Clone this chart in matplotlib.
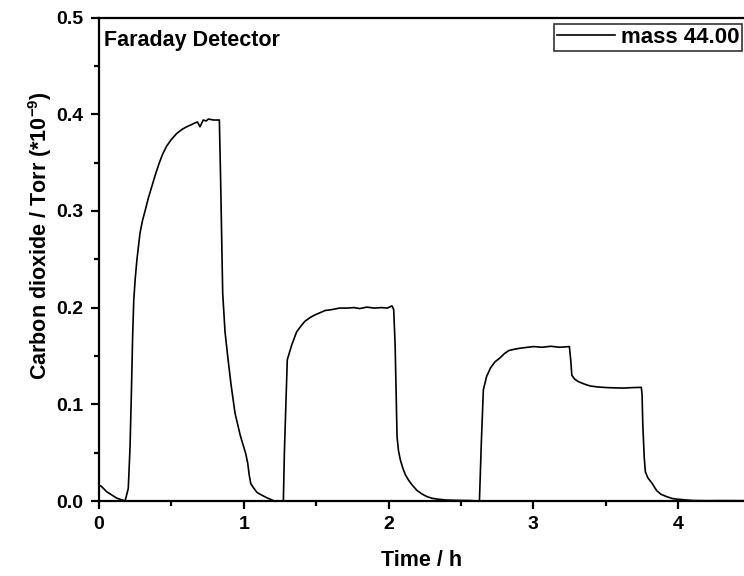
import matplotlib
matplotlib.use("Agg")
import matplotlib.pyplot as plt
from matplotlib.ticker import MultipleLocator

# CO2 partial pressure (mass 44) recorded by the Faraday detector
time_h = [0.0, 0.014, 0.053, 0.122, 0.18, 0.202, 0.214, 0.224, 0.232, 0.240,
          0.250, 0.262, 0.283, 0.300, 0.318, 0.340, 0.364, 0.390, 0.417, 0.440,
          0.467, 0.500, 0.536, 0.570, 0.605, 0.635, 0.663, 0.680, 0.697, 0.710,
          0.720, 0.740, 0.755, 0.790, 0.831, 0.840, 0.854, 0.870, 0.889, 0.912,
          0.939, 0.975, 1.013, 1.027, 1.037, 1.048, 1.070, 1.090, 1.112, 1.150,
          1.180, 1.210, 1.273, 1.280, 1.300, 1.331, 1.365, 1.400, 1.423, 1.460,
          1.492, 1.530, 1.561, 1.610, 1.660, 1.710, 1.760, 1.800, 1.850, 1.900,
          1.950, 1.990, 2.023, 2.035, 2.045, 2.051, 2.058, 2.068, 2.081, 2.098,
          2.116, 2.140, 2.162, 2.195, 2.231, 2.265, 2.300, 2.346, 2.400, 2.461,
          2.550, 2.627, 2.640, 2.654, 2.677, 2.705, 2.735, 2.769, 2.800, 2.830,
          2.870, 2.908, 2.960, 3.000, 3.060, 3.120, 3.180, 3.248, 3.258, 3.265,
          3.285, 3.310, 3.350, 3.391, 3.440, 3.506, 3.560, 3.620, 3.690, 3.745,
          3.750, 3.755, 3.765, 3.773, 3.790, 3.819, 3.851, 3.880, 3.920, 3.960,
          4.000, 4.100, 4.200, 4.300, 4.454]
co2_torr = [0.016, 0.0155, 0.0096, 0.003, 0.0, 0.013, 0.055, 0.115, 0.170, 0.208,
            0.230, 0.250, 0.277, 0.290, 0.300, 0.313, 0.325, 0.338, 0.350, 0.359,
            0.367, 0.374, 0.380, 0.384, 0.387, 0.389, 0.391, 0.392, 0.387, 0.391,
            0.394, 0.393, 0.395, 0.394, 0.394, 0.330, 0.215, 0.175, 0.149, 0.120,
            0.091, 0.068, 0.049, 0.039, 0.027, 0.018, 0.013, 0.009, 0.007, 0.004,
            0.002, 0.0, 0.0, 0.050, 0.146, 0.1615, 0.175, 0.182, 0.186, 0.190,
            0.1925, 0.195, 0.197, 0.198, 0.1995, 0.1995, 0.200, 0.199, 0.2005, 0.1995,
            0.2, 0.1995, 0.2018, 0.198, 0.160, 0.115, 0.0666, 0.052, 0.0424, 0.034,
            0.027, 0.021, 0.0166, 0.011, 0.0072, 0.0045, 0.0028, 0.0018, 0.001, 0.0007,
            0.0005, 0.0, 0.060, 0.115, 0.129, 0.138, 0.144, 0.148, 0.1525, 0.1556,
            0.157, 0.158, 0.159, 0.1597, 0.159, 0.160, 0.159, 0.1597, 0.145, 0.130,
            0.126, 0.1235, 0.121, 0.119, 0.118, 0.1173, 0.117, 0.1168, 0.1173, 0.1175,
            0.110, 0.080, 0.045, 0.030, 0.024, 0.0183, 0.0107, 0.007, 0.0045, 0.0025,
            0.0018, 0.0005, 0.0003, 0.0004, 0.0003]

series_label = "mass 44.00"
detector_label = "Faraday Detector"
x_label = "Time / h"
y_label = r"Carbon dioxide / Torr (*10$^{\mathbf{-9}}$)"

plt.rcParams["font.family"] = ["Liberation Sans", "DejaVu Sans"]
plt.rcParams["font.weight"] = "bold"
plt.rcParams["mathtext.fontset"] = "custom"
plt.rcParams["mathtext.rm"] = "Liberation Sans:bold"
plt.rcParams["mathtext.bf"] = "Liberation Sans:bold"

fig = plt.figure(figsize=(7.44, 5.76), dpi=100)
ax = fig.add_axes([0.1331, 0.1302, 0.8669, 0.8394])

ax.plot(time_h, co2_torr, color="black", lw=1.2, label=series_label)

ax.set_xlim(0, 4.454)
ax.set_ylim(0, 0.5)
ax.xaxis.set_major_locator(MultipleLocator(1))
ax.xaxis.set_minor_locator(MultipleLocator(0.5))
ax.yaxis.set_major_locator(MultipleLocator(0.1))
ax.yaxis.set_minor_locator(MultipleLocator(0.05))
ax.xaxis.set_major_formatter(plt.FuncFormatter(lambda v, p: f"{v:.0f}"))
ax.yaxis.set_major_formatter(plt.FuncFormatter(lambda v, p: f"{v:.1f}"))

for side in ("left", "bottom", "top"):
    ax.spines[side].set_linewidth(1.6)
ax.spines["right"].set_visible(False)

ax.tick_params(which="major", direction="out", length=6, width=1.6,
               labelsize=14, pad=5)
ax.tick_params(which="minor", direction="out", length=3.5, width=1.6)
for t in ax.get_xticklabels() + ax.get_yticklabels():
    t.set_fontweight("bold")

ax.set_xlabel(x_label, fontsize=15.5, fontweight="bold", labelpad=12)
ax.set_ylabel(y_label, fontsize=15.5, fontweight="bold", labelpad=3)
ax.yaxis.set_label_coords(-0.07, 0.549)

ax.text(0.008, 0.975, detector_label, transform=ax.transAxes, ha="left", va="top",
        fontsize=15.5, fontweight="bold")

leg = ax.legend(loc="upper right", bbox_to_anchor=(0.9975, 0.986), fontsize=16,
                frameon=True, fancybox=False, edgecolor="black", handlelength=2.6,
                handletextpad=0.3, borderpad=0.12, borderaxespad=0.0)
leg.get_frame().set_linewidth(1.2)
for t in leg.get_texts():
    t.set_fontweight("bold")

fig.savefig("out.png", dpi=100)
